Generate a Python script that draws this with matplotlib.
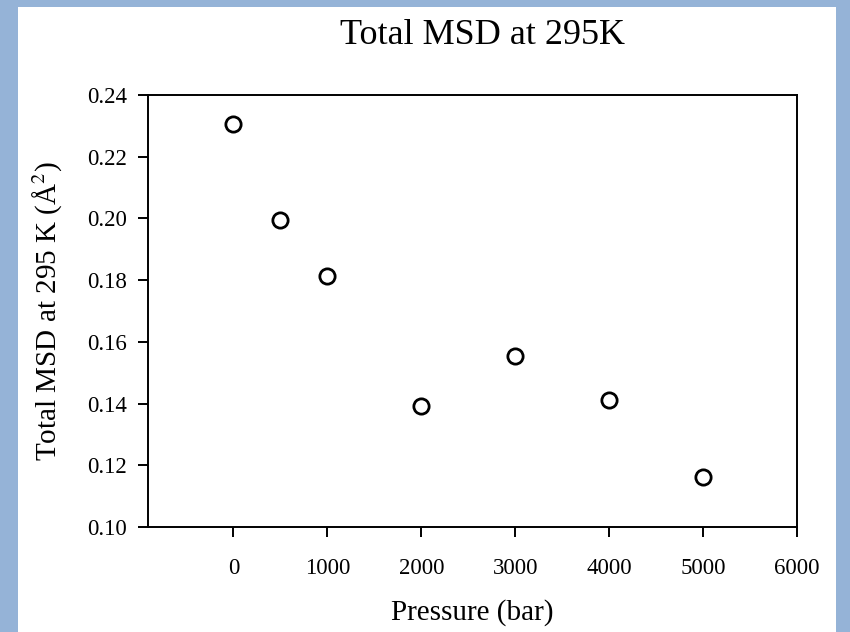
import matplotlib.pyplot as plt
from matplotlib.patches import Rectangle

pressure = [0, 500, 1000, 2000, 3000, 4000, 5000]
msd = [0.2305, 0.1995, 0.1813, 0.1392, 0.1554, 0.1412, 0.1162]
xticks = [0, 1000, 2000, 3000, 4000, 5000, 6000]
yticks = [0.10, 0.12, 0.14, 0.16, 0.18, 0.20, 0.22, 0.24]

plt.rcParams['font.family'] = ['Liberation Serif', 'DejaVu Serif']
plt.rcParams['mathtext.fontset'] = 'stix'

fig = plt.figure(figsize=(8.5, 6.32), dpi=100, facecolor='#95b3d7')
# white panel inside the blue frame
fig.patches.append(Rectangle((18/850, 0), (836-18)/850, (632-7)/632,
                             transform=fig.transFigure, facecolor='white',
                             edgecolor='none', zorder=-10))

ax = fig.add_axes([148/850, 1-527/632, (797-148)/850, (527-95)/632])
ax.plot(pressure, msd, 'o', markersize=11, markerfacecolor='none',
        markeredgecolor='black', markeredgewidth=2.0)

ax.set_xlim(-910, 6000)
ax.set_ylim(0.10, 0.24)
ax.set_xticks(xticks)
ax.set_yticks(yticks)
ax.set_yticklabels(['%.2f' % v for v in yticks])
ax.tick_params(direction='out', length=7, width=1.4, labelsize=16.5, pad=8)
ax.tick_params(axis='x', pad=15)
ax.tick_params(top=False, right=False)
for s in ax.spines.values():
    s.set_linewidth(1.4)

ax.set_xlabel('Pressure (bar)', fontsize=21, labelpad=15)
ax.set_ylabel('Total MSD at 295 K (Å$^2$)', fontsize=21, labelpad=17)
fig.text(483/850, 1-35/632, 'Total MSD at 295K', fontsize=26,
         ha='center', va='center')

fig.savefig('out.png', dpi=100, facecolor=fig.get_facecolor())
